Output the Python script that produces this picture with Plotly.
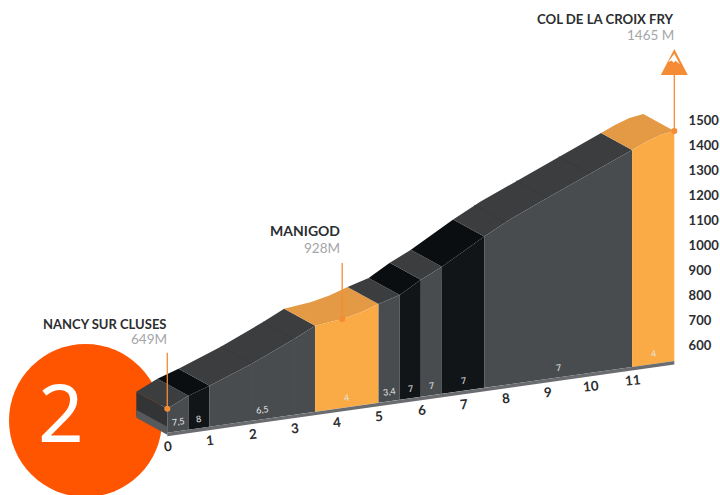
import plotly.graph_objects as go

# --- data -------------------------------------------------------------
profile_km = [0, 0.5, 1, 2, 3, 3.5, 4.14, 4.57, 5, 5.5, 6, 6.5, 7.5, 8.14, 9, 10.2, 11, 11.33, 11.67, 12]
profile_alt = [632, 672, 700, 765, 840, 881, 893, 909, 933, 957, 1006, 1046, 1144, 1200, 1263, 1350, 1407, 1431, 1451, 1459]

segment_start = [0, 0.5, 1, 3.5, 5, 5.5, 6, 6.5, 7.5, 11]
segment_end = [0.5, 1, 3.5, 5, 5.5, 6, 6.5, 7.5, 11, 12]
segment_grade = ["7,5", "8", "6,5", "4", "3,4", "7", "7", "7", "7", "4"]
segment_kind = ["grey", "dark", "grey", "orange", "grey", "dark", "grey", "dark", "grey", "orange"]

km_ticks = [0, 1, 2, 3, 4, 5, 6, 7, 8, 9, 10, 11]
alt_ticks = [600, 700, 800, 900, 1000, 1100, 1200, 1300, 1400, 1500]

place_km = [0, 4.14, 12]
place_alt = [632, 893, 1459]
place_name = ["NANCY SUR CLUSES", "MANIGOD", "COL DE LA CROIX FRY"]
place_height = ["649M", "928M", "1465 M"]

# --- projection -------------------------------------------------------
PX_KM = 42.25
PX_M = 0.249
LEFT = 167.3
BASE_ALT = 536
SHEAR = 24.0          # metres of apparent drop per km before the finish
DEPTH_KM = -31 / PX_KM
DEPTH_M = 17 / PX_M
STEM_M = 56 / PX_M


def py(km, alt):
    return alt - SHEAR * (12 - km)


def alt_at(km):
    for i in range(len(profile_km) - 1):
        a, b = profile_km[i], profile_km[i + 1]
        if a <= km <= b:
            return profile_alt[i] + (profile_alt[i + 1] - profile_alt[i]) * (km - a) / (b - a)
    return profile_alt[-1]


FRONT = {"grey": "#494c4f", "dark": "#121518", "orange": "#fbab45"}
TOP = {"grey": "#3b3d3f", "dark": "#0b0e10", "orange": "#e49a45"}

fig = go.Figure()


def poly(xs, ys, color):
    fig.add_trace(go.Scatter(x=xs, y=ys, mode="lines", fill="toself", fillcolor=color,
                             line=dict(width=0, color=color), hoverinfo="skip",
                             showlegend=False, cliponaxis=False))


# badge behind the block
BADGE_KM = (85.5 - LEFT) / PX_KM
BADGE_Y = 600 + (345 - 420.5) / PX_M
fig.add_trace(go.Scatter(x=[BADGE_KM], y=[BADGE_Y], mode="markers",
                         marker=dict(size=153, color="#ff5500", line=dict(width=0)),
                         hoverinfo="skip", showlegend=False, cliponaxis=False))

# left side of the first block
a0 = profile_alt[0]
side_x = [0, DEPTH_KM, DEPTH_KM, 0]
poly(side_x, [py(0, a0), py(0, a0) + DEPTH_M, py(0, BASE_ALT) + DEPTH_M, py(0, BASE_ALT)], "#323436")
poly(side_x, [py(0, BASE_ALT + 24), py(0, BASE_ALT + 24) + DEPTH_M, py(0, BASE_ALT - 8) + DEPTH_M, py(0, BASE_ALT - 8)], "#58595c")

# top surfaces and front faces
for s, e, kind in zip(segment_start, segment_end, segment_kind):
    kms = [s] + [k for k in profile_km if s < k < e] + [e]
    tops = [py(k, alt_at(k)) for k in kms]
    poly(kms + [k + DEPTH_KM for k in reversed(kms)],
         tops + [t + DEPTH_M for t in reversed(tops)], TOP[kind])
    poly(kms + [e, s], tops + [py(e, BASE_ALT), py(s, BASE_ALT)], FRONT[kind])

# subtle km separators on the long grey slope
for k in [2, 3]:
    fig.add_trace(go.Scatter(x=[k, k], y=[py(k, BASE_ALT), py(k, alt_at(k))], mode="lines",
                             line=dict(width=1, color="#4d5053"), hoverinfo="skip", showlegend=False))
for k in [2, 3, 8, 9, 10]:
    t = py(k, alt_at(k))
    fig.add_trace(go.Scatter(x=[k, k + DEPTH_KM], y=[t, t + DEPTH_M], mode="lines",
                             line=dict(width=1, color="#37393b"), hoverinfo="skip", showlegend=False))

# road strip under the faces
poly([0, 12, 12, 0], [py(0, BASE_ALT), py(12, BASE_ALT), py(12, BASE_ALT - 14), py(0, BASE_ALT - 14)], "#6a6c6f")

# summit stems and dots
for k, a in zip(place_km, place_alt):
    fig.add_trace(go.Scatter(x=[k, k], y=[py(k, a), py(k, a) + STEM_M], mode="lines",
                             line=dict(width=1.3, color="#f58b35"), hoverinfo="skip",
                             showlegend=False, cliponaxis=False))
fig.add_trace(go.Scatter(x=place_km, y=[py(k, a) for k, a in zip(place_km, place_alt)], mode="markers",
                         marker=dict(size=6, color="#f58b35"), hoverinfo="skip",
                         showlegend=False, cliponaxis=False))

# mountain icon on the last stem
fk, fa = place_km[-1], place_alt[-1]
tip = py(fk, fa) + STEM_M
icon_w = 13.5 / PX_KM
icon_h = 26 / PX_M
poly([fk - icon_w, fk, fk + icon_w, fk - icon_w], [tip, tip + icon_h, tip, tip], "#f58b35")
poly([fk - 0.145, fk, fk + 0.13, fk + 0.03, fk - 0.02, fk - 0.06, fk - 0.145],
     [tip + icon_h * 0.5, tip + icon_h * 0.82, tip + icon_h * 0.42, tip + icon_h * 0.55,
      tip + icon_h * 0.48, tip + icon_h * 0.56, tip + icon_h * 0.5], "#ffffff")

annotations = []
label_right = [168.5, 341.5, 676]
name_size = [13, 14, 13.2]
name_shift = [29, 33, 56]
sub_shift = [14, 15, 40]
for k, a, name, h, rpx, ns, ny, sy in zip(place_km, place_alt, place_name, place_height,
                                          label_right, name_size, name_shift, sub_shift):
    top = py(k, a) + STEM_M
    rx = (rpx - LEFT) / PX_KM
    annotations.append(dict(x=rx, y=top, text=name, showarrow=False, xanchor="right", yanchor="middle",
                            yshift=ny, font=dict(family="Lato", size=ns, color="#2c2e30", weight=700)))
    annotations.append(dict(x=rx, y=top, text=h, showarrow=False, xanchor="right", yanchor="middle",
                            yshift=sy, font=dict(family="Lato", size=13.5, color="#a4a6a9")))

for s, e, g, kind in zip(segment_start, segment_end, segment_grade, segment_kind):
    m = (s + e) / 2
    annotations.append(dict(x=m, y=py(m, BASE_ALT + 40), text=g, showarrow=False, textangle=-8,
                            font=dict(family="Lato", size=9, color="#e4e4e4")))

for k in km_ticks:
    annotations.append(dict(x=k + 0.02, y=py(k, BASE_ALT - 54), text=str(k), showarrow=False, textangle=-6,
                            font=dict(family="Lato", size=13.5, color="#2c2e30", weight=700)))

annotations.append(dict(x=(61 - LEFT) / PX_KM, y=600 + (345 - 410) / PX_M, text="2", showarrow=False,
                        font=dict(family="Noto Sans", size=80, color="#ffffff")))

fig.update_layout(
    width=720, height=495,
    margin=dict(l=0, r=0, t=0, b=0),
    paper_bgcolor="white", plot_bgcolor="white",
    showlegend=False,
    annotations=annotations,
    xaxis=dict(range=[-LEFT / PX_KM, (720 - LEFT) / PX_KM], domain=[0, 1], visible=False, fixedrange=True),
    yaxis=dict(range=[600 + (345 - 495) / PX_M, 600 + 345 / PX_M], anchor="free", position=674 / 720,
               side="right", tickvals=alt_ticks, ticklen=11, ticks="outside", tickcolor="rgba(0,0,0,0)",
               showgrid=False, zeroline=False, showline=False, fixedrange=True,
               tickfont=dict(family="Lato", size=13, color="#2c2e30", weight=700)),
)

fig.write_html("out.html", config={"displayModeBar": False},
               post_script="document.body.style.margin='0';document.body.style.overflow='hidden';")
